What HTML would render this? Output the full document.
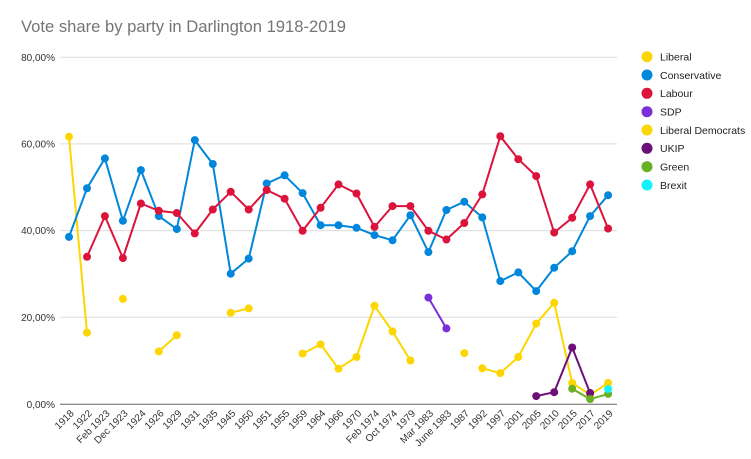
<!DOCTYPE html>
<html><head><meta charset="utf-8"><style>
html,body{margin:0;padding:0;background:#fff;}
svg{display:block;font-family:"Liberation Sans",Arial,sans-serif;}
</style></head><body>
<svg id="c" width="751" height="459" viewBox="0 0 751 459" xmlns="http://www.w3.org/2000/svg">
<rect width="751" height="459" fill="#fff"/>
<text x="21" y="32" font-size="17" fill="#757575" textLength="325" lengthAdjust="spacingAndGlyphs">Vote share by party in Darlington 1918-2019</text>
<g stroke="#dcdcdc" stroke-width="1">
<line x1="60" y1="57.2" x2="617" y2="57.2"/>
<line x1="60" y1="143.9" x2="617" y2="143.9"/>
<line x1="60" y1="230.6" x2="617" y2="230.6"/>
<line x1="60" y1="317.3" x2="617" y2="317.3"/>
</g>
<line x1="60" y1="404.3" x2="617" y2="404.3" stroke="#666" stroke-width="1"/>
<g font-size="10" fill="#333" text-anchor="end">
<text x="55" y="60.8">80,00%</text>
<text x="55" y="147.5">60,00%</text>
<text x="55" y="234.2">40,00%</text>
<text x="55" y="320.9">20,00%</text>
<text x="55" y="407.9">0,00%</text>
</g>
<g font-size="10" fill="#333" text-anchor="end">
<text transform="translate(74.5,414) rotate(-45)">1918</text>
<text transform="translate(92.5,414) rotate(-45)">1922</text>
<text transform="translate(110.4,414) rotate(-45)">Feb 1923</text>
<text transform="translate(128.4,414) rotate(-45)">Dec 1923</text>
<text transform="translate(146.4,414) rotate(-45)">1924</text>
<text transform="translate(164.4,414) rotate(-45)">1926</text>
<text transform="translate(182.3,414) rotate(-45)">1929</text>
<text transform="translate(200.3,414) rotate(-45)">1931</text>
<text transform="translate(218.3,414) rotate(-45)">1935</text>
<text transform="translate(236.2,414) rotate(-45)">1945</text>
<text transform="translate(254.2,414) rotate(-45)">1950</text>
<text transform="translate(272.2,414) rotate(-45)">1951</text>
<text transform="translate(290.1,414) rotate(-45)">1955</text>
<text transform="translate(308.1,414) rotate(-45)">1959</text>
<text transform="translate(326.1,414) rotate(-45)">1964</text>
<text transform="translate(344.1,414) rotate(-45)">1966</text>
<text transform="translate(362,414) rotate(-45)">1970</text>
<text transform="translate(380,414) rotate(-45)">Feb 1974</text>
<text transform="translate(398,414) rotate(-45)">Oct 1974</text>
<text transform="translate(415.9,414) rotate(-45)">1979</text>
<text transform="translate(433.9,414) rotate(-45)">Mar 1983</text>
<text transform="translate(451.9,414) rotate(-45)">June 1983</text>
<text transform="translate(469.8,414) rotate(-45)">1987</text>
<text transform="translate(487.8,414) rotate(-45)">1992</text>
<text transform="translate(505.8,414) rotate(-45)">1997</text>
<text transform="translate(523.8,414) rotate(-45)">2001</text>
<text transform="translate(541.7,414) rotate(-45)">2005</text>
<text transform="translate(559.7,414) rotate(-45)">2010</text>
<text transform="translate(577.7,414) rotate(-45)">2015</text>
<text transform="translate(595.6,414) rotate(-45)">2017</text>
<text transform="translate(613.6,414) rotate(-45)">2019</text>
</g>
<g id="series"></g>
<g font-size="10.5" fill="#222">
<circle cx="647" cy="56.7" r="5.5" fill="#FDD600"/><text x="660" y="60.5">Liberal</text>
<circle cx="647" cy="75" r="5.5" fill="#0087DC"/><text x="660" y="78.8">Conservative</text>
<circle cx="647" cy="93.3" r="5.5" fill="#DC143C"/><text x="660" y="97.1">Labour</text>
<circle cx="647" cy="111.7" r="5.5" fill="#7B2FD6"/><text x="660" y="115.5">SDP</text>
<circle cx="647" cy="130" r="5.5" fill="#FDD600"/><text x="660" y="133.8">Liberal Democrats</text>
<circle cx="647" cy="148.3" r="5.5" fill="#6D0F78"/><text x="660" y="152.1">UKIP</text>
<circle cx="647" cy="166.7" r="5.5" fill="#6AB023"/><text x="660" y="170.5">Green</text>
<circle cx="647" cy="185" r="5.5" fill="#12F2FF"/><text x="660" y="188.8">Brexit</text>
</g>
</svg>
<script>
(function(){
var N=null;
var S=[
["#FDD600",[61.7,16.5,N,24.3,N,12.2,15.9,N,N,21.1,22.1,N,N,11.7,13.8,8.2,10.9,22.7,16.8,10.1,N,N,11.8,N,N,N,N,N,N,N,N]],
["#0087DC",[38.6,49.8,56.7,42.3,54.0,43.4,40.4,60.9,55.4,30.1,33.6,50.9,52.8,48.7,41.3,41.3,40.7,39.0,37.8,43.6,35.1,44.8,46.7,43.1,28.4,30.4,26.1,31.5,35.3,43.4,48.2]],
["#DC143C",[N,34.0,43.4,33.7,46.3,44.6,44.1,39.4,44.9,49.0,44.9,49.4,47.4,40.0,45.3,50.7,48.6,40.9,45.7,45.7,40.0,38.0,41.8,48.4,61.8,56.5,52.6,39.6,43.0,50.7,40.5]],
["#7B2FD6",[N,N,N,N,N,N,N,N,N,N,N,N,N,N,N,N,N,N,N,N,24.6,17.5,N,N,N,N,N,N,N,N,N]],
["#FDD600",[N,N,N,N,N,N,N,N,N,N,N,N,N,N,N,N,N,N,N,N,N,N,N,8.3,7.2,10.9,18.6,23.4,4.9,2.2,4.9]],
["#6D0F78",[N,N,N,N,N,N,N,N,N,N,N,N,N,N,N,N,N,N,N,N,N,N,N,N,N,N,1.9,2.8,13.1,2.6,N]],
["#6AB023",[N,N,N,N,N,N,N,N,N,N,N,N,N,N,N,N,N,N,N,N,N,N,N,N,N,N,N,N,3.6,1.2,2.4]],
["#12F2FF",[N,N,N,N,N,N,N,N,N,N,N,N,N,N,N,N,N,N,N,N,N,N,N,N,N,N,N,N,N,N,3.5]]
];
var g=document.getElementById('series'),h='';
function X(i){return 69+17.97*i;}
function Y(v){return 404.3-4.3375*v;}
S.forEach(function(s){
 var c=s[0],d=s[1],i;
 for(i=0;i<d.length-1;i++){
  if(d[i]!=null&&d[i+1]!=null){
   h+='<line x1="'+X(i).toFixed(1)+'" y1="'+Y(d[i]).toFixed(1)+'" x2="'+X(i+1).toFixed(1)+'" y2="'+Y(d[i+1]).toFixed(1)+'" stroke="'+c+'" stroke-width="2" stroke-linecap="round"/>';
  }
 }
 for(i=0;i<d.length;i++){
  if(d[i]!=null){h+='<circle cx="'+X(i).toFixed(1)+'" cy="'+Y(d[i]).toFixed(1)+'" r="4" fill="'+c+'"/>';}
 }
});
g.innerHTML=h;
})();
</script>
</body></html>
